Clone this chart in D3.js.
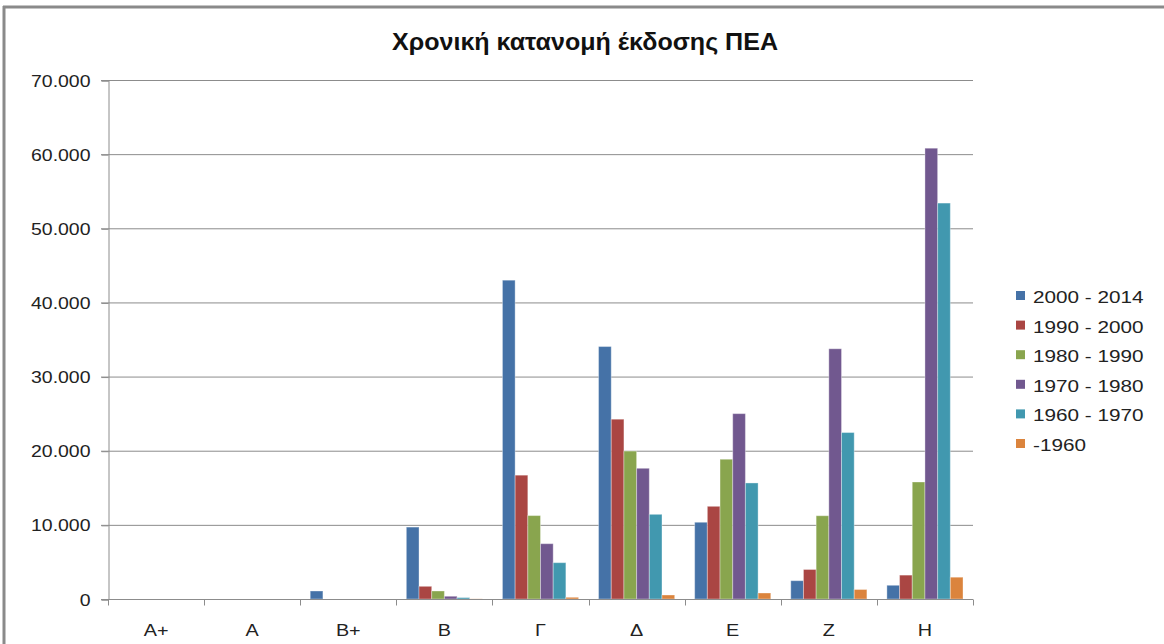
<!DOCTYPE html>
<html>
<head>
<meta charset="utf-8">
<script src="https://cdn.jsdelivr.net/npm/d3@7"></script>
<style>
  body { margin: 0; background: #fff; }
  svg { display: block; font-family: "Liberation Sans", Arial, sans-serif; }
</style>
</head>
<body>
<svg width="1164" height="644"></svg>
<script>
  // categories and series
  var categories = ["Α+", "Α", "Β+", "Β", "Γ", "Δ", "Ε", "Ζ", "Η"];
  var seriesNames = ["2000 - 2014", "1990 - 2000", "1980 - 1990", "1970 - 1980", "1960 - 1970", "-1960"];
  var s2000 = [0, 0, 1080, 9700, 43000, 34050, 10350, 2470, 1850];
  var s1990 = [0, 0, 0, 1710, 16700, 24250, 12500, 3980, 3220];
  var s1980 = [0, 0, 0, 1080, 11250, 19950, 18850, 11230, 15780];
  var s1970 = [0, 0, 0, 370, 7460, 17630, 25000, 33750, 60800];
  var s1960 = [0, 0, 0, 190, 4900, 11420, 15650, 22450, 53400];
  var sPre = [0, 0, 0, 20, 230, 540, 810, 1280, 2940];
  var colors = ["#4572A7", "#AA4643", "#89A54E", "#71588F", "#4198AF", "#DB843D"];
  var yTicks = [0, 10000, 20000, 30000, 40000, 50000, 60000, 70000];

  var allSeries = [s2000, s1990, s1980, s1970, s1960, sPre];

  var svg = d3.select("svg");

  // outer frame (only top and left edges show)
  svg.append("line").attr("x1", 3).attr("x2", 1164).attr("y1", 7).attr("y2", 7)
      .attr("stroke", "#8a8a8a").attr("stroke-width", 3);
  svg.append("line").attr("x1", 4).attr("x2", 4).attr("y1", 6).attr("y2", 644)
      .attr("stroke", "#8a8a8a").attr("stroke-width", 3);

  var plotL = 108, plotR = 973, plotT = 80, plotB = 599;

  var x0 = d3.scaleBand().domain(categories).range([plotL, plotR]).padding(0);
  var x1 = d3.scaleBand().domain(d3.range(seriesNames.length))
      .range([10, x0.bandwidth() - 10]).padding(0);
  var y = d3.scaleLinear().domain([0, 70000]).range([plotB, plotT]);

  var fmt = function (d) { return d3.format(",")(d).replace(/,/g, "."); };

  // gridlines
  svg.append("g").selectAll("line").data(yTicks).enter().append("line")
      .attr("x1", plotL - 7).attr("x2", plotR)
      .attr("y1", function (d) { return y(d) + 0.5; })
      .attr("y2", function (d) { return y(d) + 0.5; })
      .attr("stroke", "#8c8c8c").attr("stroke-width", 1);

  // y axis
  var yAxis = svg.append("g").attr("transform", "translate(" + (plotL + 0.5) + ",0.5)")
      .call(d3.axisLeft(y).tickValues(yTicks).tickFormat(fmt).tickSize(7).tickPadding(0));
  yAxis.select(".domain").attr("stroke", "#8c8c8c");
  yAxis.selectAll(".tick line").attr("stroke", "#8c8c8c");
  yAxis.selectAll(".tick text")
      .attr("x", null).attr("dy", null).attr("y", 5.5)
      .attr("transform", "translate(-18,0) scale(1.18,1)")
      .attr("font-size", 16.5).attr("fill", "#222")
      .attr("font-family", "Liberation Sans, Arial, sans-serif");

  // bars
  var groups = svg.append("g").selectAll("g").data(categories).enter().append("g")
      .attr("transform", function (d) { return "translate(" + x0(d) + ",0)"; });
  groups.selectAll("rect")
      .data(function (d, i) { return allSeries.map(function (s, k) { return { k: k, v: s[i] }; }); })
      .enter().append("rect")
      .attr("x", function (d) { return x1(d.k); })
      .attr("width", x1.bandwidth())
      .attr("y", function (d) { return y(d.v); })
      .attr("height", function (d) { return y(0) - y(d.v); })
      .attr("fill", function (d) { return colors[d.k]; })
      .attr("stroke", "rgba(255,255,255,0.35)").attr("stroke-width", 1);

  // x axis
  var xAxis = svg.append("g").attr("transform", "translate(0," + (plotB + 0.5) + ")");
  xAxis.append("line").attr("x1", plotL).attr("x2", plotR)
      .attr("stroke", "#8c8c8c");
  xAxis.selectAll("line.tk").data(d3.range(categories.length + 1)).enter().append("line")
      .attr("class", "tk")
      .attr("x1", function (i) { return Math.round(plotL + i * x0.bandwidth()) + 0.5; })
      .attr("x2", function (i) { return Math.round(plotL + i * x0.bandwidth()) + 0.5; })
      .attr("y1", 0).attr("y2", 6).attr("stroke", "#8c8c8c");
  xAxis.selectAll("text").data(categories).enter().append("text")
      .attr("transform", function (d) {
        return "translate(" + (x0(d) + x0.bandwidth() / 2) + ",36) scale(1.2,1)";
      })
      .attr("text-anchor", "middle")
      .attr("font-size", 16.5).attr("fill", "#222")
      .text(function (d) { return d; });

  // title
  svg.append("text").attr("x", 392).attr("y", 50)
      .attr("textLength", 386).attr("lengthAdjust", "spacingAndGlyphs")
      .attr("font-weight", "bold").attr("font-size", 23).attr("fill", "#111")
      .text("Χρονική κατανομή έκδοσης ΠΕΑ");

  // legend
  var legend = svg.append("g").selectAll("g").data(seriesNames).enter().append("g")
      .attr("transform", function (d, i) { return "translate(1016," + (291 + i * 29.6) + ")"; });
  legend.append("rect").attr("x", 0).attr("y", 0).attr("width", 9).attr("height", 9)
      .attr("fill", function (d, i) { return colors[i]; });
  legend.append("text")
      .attr("transform", "translate(17,12) scale(1.27,1)")
      .attr("font-size", 16.3).attr("fill", "#222")
      .text(function (d) { return d; });
</script>
</body>
</html>
